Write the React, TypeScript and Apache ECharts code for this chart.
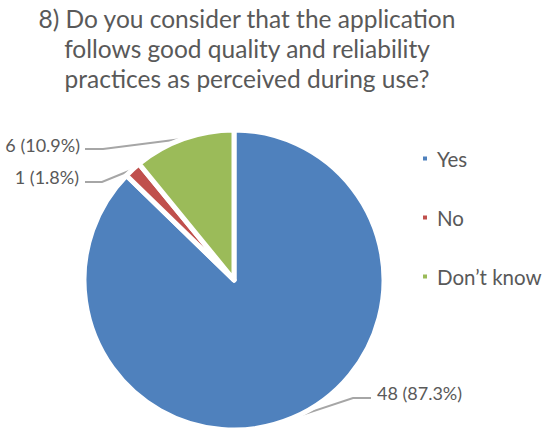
import React, { useEffect, useRef } from "react";
import * as echarts from "echarts";

const TITLE_LINES = [
  "8) Do you consider that the application",
  "follows good quality and reliability",
  "practices as perceived during use?",
];
const CATEGORIES = ["Yes", "No", "Don\u2019t know"];
const COUNTS = [48, 1, 6];
const COLORS = ["#4F81BD", "#C0504D", "#9BBB59"];

// Manual label placement (as in the original spreadsheet chart)
const LABEL_POS = [
  { x: 377, y: 393, align: "left", lineY: 398, bendX: 353, endX: 371 },
  { x: 79, y: 177, align: "right", lineY: 182, bendX: 102, endX: 85 },
  { x: 80, y: 145, align: "right", lineY: 149, bendX: 103, endX: 85 },
];

const FONT = "Lato, 'Open Sans', sans-serif";
const TEXT = "#595959";

export default function App() {
  const ref = useRef<HTMLDivElement>(null);
  useEffect(() => {
    if (!ref.current) return;
    const chart = echarts.init(ref.current, null, { renderer: "svg" });
    chart.setOption({
      animation: false,
      backgroundColor: "#ffffff",
      graphic: [
        {
          type: "text",
          x: 247,
          y: 3,
          style: {
            text: TITLE_LINES.join("\n"),
            align: "center",
            verticalAlign: "top",
            font: `24.5px ${FONT}`,
            lineHeight: 30,
            fill: TEXT,
          },
        },
      ],
      legend: {
        orient: "vertical",
        left: 416,
        top: 143,
        itemWidth: 6,
        itemHeight: 6,
        itemGap: 38,
        icon: "rect",
        data: CATEGORIES,
        textStyle: {
          color: TEXT,
          fontFamily: FONT,
          fontSize: 20.5,
          lineHeight: 20,
          padding: [0, 0, 0, 4],
        },
        selectedMode: false,
      },
      series: [
        {
          type: "pie",
          center: [234, 280],
          radius: 150,
          startAngle: 90,
          clockwise: true,
          percentPrecision: 1,
          emphasis: { disabled: true },
          itemStyle: { borderColor: "#ffffff", borderWidth: 5 },
          data: CATEGORIES.map((name, i) => ({
            name,
            value: COUNTS[i],
            itemStyle: { color: COLORS[i] },
          })),
          label: {
            show: true,
            formatter: "{c} ({d}%)",
            color: TEXT,
            fontFamily: FONT,
            fontSize: 18,
          },
          labelLine: {
            show: true,
            lineStyle: { color: "#A6A6A6", width: 2 },
          },
          labelLayout: (params: any) => {
            const L = LABEL_POS[params.dataIndex];
            const p0 = params.labelLinePoints ? params.labelLinePoints[0] : [0, 0];
            return {
              x: L.x,
              y: L.y,
              align: L.align,
              verticalAlign: "middle",
              labelLinePoints: [p0, [L.bendX, L.lineY], [L.endX, L.lineY]],
            };
          },
        },
      ],
    });
    return () => chart.dispose();
  }, []);
  return (
    <div
      ref={ref}
      style={{ position: "fixed", left: 0, top: 0, width: 550, height: 436 }}
    />
  );
}
